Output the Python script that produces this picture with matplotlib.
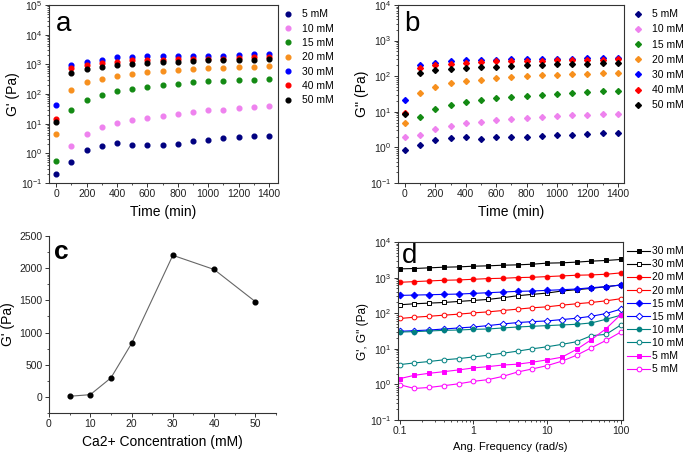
import matplotlib
matplotlib.use("Agg")
import matplotlib.pyplot as plt
import numpy as np

plt.rcParams["font.family"] = ["Liberation Sans", "DejaVu Sans"]
plt.rcParams["font.size"] = 7.5

# ---- panel a / b : time sweeps -------------------------------------------
time_min = [0, 100, 200, 300, 400, 500, 600, 700, 800, 900, 1000, 1100, 1200, 1300, 1400]
conc_labels = ["5 mM", "10 mM", "15 mM", "20 mM", "30 mM", "40 mM", "50 mM"]
conc_colors = ["#000080", "#ee82ee", "#138a13", "#f7901e", "#0000ff", "#ff0000", "#000000"]

g1_5 = [0.2, 0.52, 1.26, 1.8, 2.15, 1.95, 1.9, 1.95, 2.1, 2.6, 2.85, 3.2, 3.6, 3.7, 3.8]
g1_10 = [np.nan, 1.7, 4.4, 7.8, 10.5, 13, 16, 18.6, 21, 24.5, 28, 30, 33, 36, 39]
g1_15 = [0.56, 30, 63, 96, 127, 152, 178, 203, 225, 245, 265, 285, 290, 300, 325]
g1_20 = [4.4, 140, 245, 333, 410, 480, 555, 600, 665, 720, 760, 780, 800, 820, 870]
g1_30 = [44, 950, 1200, 1400, 1700, 1800, 1840, 1900, 1900, 1900, 1950, 1950, 2000, 2150, 2200]
g1_40 = [14, 750, 950, 1100, 1240, 1350, 1400, 1400, 1480, 1520, 1560, 1560, 1650, 1700, 1750]
g1_50 = [11.5, 530, 700, 815, 930, 1030, 1110, 1200, 1240, 1300, 1350, 1380, 1400, 1450, 1480]

g2_5 = [0.84, 1.15, 1.6, 1.8, 1.9, 1.7, 1.9, 1.9, 2.0, 2.1, 2.2, 2.3, 2.4, 2.6, 2.5]
g2_10 = [2.0, 2.2, 3.3, 4.1, 5.0, 5.2, 5.7, 6.1, 6.5, 7.1, 7.6, 7.9, 8.2, 8.6, 8.8]
g2_15 = [np.nan, 7.2, 12, 16, 19, 21, 24, 26, 28, 30, 32, 34, 36, 38, 39]
g2_20 = [4.7, 33, 50, 63, 72, 80, 88, 95, 100, 105, 110, 115, 118, 122, 125]
g2_30 = [21, 205, 240, 270, 280, 285, 290, 295, 295, 300, 305, 310, 315, 320, 325]
g2_40 = [9, 175, 205, 225, 240, 250, 260, 265, 270, 275, 280, 285, 290, 290, 295]
g2_50 = [8.8, 120, 145, 160, 170, 180, 185, 195, 200, 210, 215, 220, 225, 235, 240]

# ---- panel c : G' vs Ca2+ ---------------------------------------------------
ca_conc = [5, 10, 15, 20, 30, 40, 50]
g1_final = [10, 35, 295, 830, 2200, 1980, 1480]

# ---- panel d : frequency sweeps ------------------------------------------
freq = [0.1, 0.158, 0.251, 0.398, 0.631, 1.0, 1.58, 2.51, 3.98, 6.31,
        10.0, 15.8, 25.1, 39.8, 63.1, 100.0]
d30_g1 = [1760, 1800, 1880, 1960, 2000, 2090, 2140, 2230, 2280, 2380, 2550, 2600, 2720, 2900, 3030, 3230]
d30_g2 = [172, 184, 192, 200, 214, 228, 244, 272, 310, 338, 368, 420, 457, 499, 556, 620]
d20_g1 = [738, 771, 805, 841, 859, 897, 937, 958, 1000, 1022, 1067, 1115, 1165, 1190, 1243, 1355]
d20_g2 = [71, 77, 82, 88, 94, 102, 109, 119, 130, 142, 151, 168, 184, 200, 223, 255]
d15_g1 = [316, 323, 330, 338, 345, 360, 376, 393, 411, 420, 438, 457, 478, 521, 556, 620]
d15_g2 = [31, 32.3, 33.7, 36, 38.5, 41, 44.8, 49.9, 54.5, 58, 60.7, 66.2, 72.2, 82, 98, 130]
d10_g1 = [29.6, 30.3, 31.6, 33, 33.7, 35.2, 36, 38.5, 41, 42.9, 44.8, 46.8, 48.8, 53.3, 67.6, 87.8]
d10_g2 = [3.6, 4.0, 4.4, 4.9, 5.3, 5.9, 6.6, 7.5, 8.6, 10, 11.4, 13.3, 15.8, 23.3, 25.5, 46.8]
d5_g1 = [1.45, 1.8, 2.05, 2.28, 2.55, 2.9, 3.16, 3.5, 3.7, 4.2, 4.9, 5.8, 9.6, 18, 36.8, 91.6]
d5_g2 = [0.98, 0.77, 0.82, 0.92, 1.04, 1.22, 1.36, 1.68, 2.23, 2.72, 3.37, 4.48, 6.6, 10.7, 17.2, 29.6]

W, H = 685, 453
fig = plt.figure(figsize=(W / 100, H / 100), dpi=100)


def box(left, top, right, bottom):
    return [left / W, 1 - bottom / H, (right - left) / W, (bottom - top) / H]


def style(ax, spines=True):
    for s in ax.spines.values():
        s.set_color("#333333")
        s.set_linewidth(0.8)
    if not spines:
        ax.spines["top"].set_visible(False)
        ax.spines["right"].set_visible(False)
    ax.tick_params(which="major", length=3, width=0.7, colors="#333333",
                   labelcolor="#222222", labelsize=7.5, pad=1.5)
    ax.tick_params(which="minor", length=1.6, width=0.6, colors="#333333")
    ax.tick_params(top=False, right=False, which="both")


# ---- a
ax_a = fig.add_axes(box(49, 5, 278, 183))
for vals, lab, col in zip([g1_5, g1_10, g1_15, g1_20, g1_30, g1_40, g1_50], conc_labels, conc_colors):
    ax_a.plot(time_min, vals, "o", ms=3.4, color=col, mec=col, label=lab)
ax_a.set_yscale("log")
ax_a.set_ylim(0.1, 1e5)
ax_a.set_xlim(-48, 1460)
ax_a.set_xticks(range(0, 1401, 200))
ax_a.set_xticks(range(100, 1401, 200), minor=True)
ax_a.set_xlabel("Time (min)", fontsize=10)
ax_a.set_ylabel("G' (Pa)", fontsize=10, labelpad=1)
ax_a.text(0.03, 0.854, "a", transform=ax_a.transAxes, fontsize=20, va="baseline")
style(ax_a)
ax_a.legend(loc="upper left", bbox_to_anchor=(1.0, 1.0), frameon=False,
            handletextpad=0.7, labelspacing=0.42, borderaxespad=0.0,
            handlelength=1.2, fontsize=7.5)

# ---- b
ax_b = fig.add_axes(box(398, 5, 624, 183))
for vals, lab, col in zip([g2_5, g2_10, g2_15, g2_20, g2_30, g2_40, g2_50], conc_labels, conc_colors):
    ax_b.plot(time_min, vals, "D", ms=3.0, color=col, mec=col, label=lab)
ax_b.set_yscale("log")
ax_b.set_ylim(0.1, 1e4)
ax_b.set_xlim(-46, 1440)
ax_b.set_xticks(range(0, 1401, 200))
ax_b.set_xticks(range(100, 1401, 200), minor=True)
ax_b.set_xlabel("Time (min)", fontsize=10)
ax_b.set_ylabel("G'' (Pa)", fontsize=10, labelpad=1)
ax_b.text(0.027, 0.854, "b", transform=ax_b.transAxes, fontsize=20, va="baseline")
style(ax_b)
ax_b.legend(loc="upper left", bbox_to_anchor=(1.015, 1.0), frameon=False,
            handletextpad=0.75, labelspacing=0.5, borderaxespad=0.0,
            handlelength=1.2, fontsize=7.5)

# ---- c
ax_c = fig.add_axes(box(49, 236, 276, 413))
ax_c.plot(ca_conc, g1_final, "-", color="#666666", lw=0.8)
ax_c.plot(ca_conc, g1_final, "o", ms=3.4, color="black")
ax_c.set_xlim(0, 55)
ax_c.set_ylim(-250, 2500)
ax_c.set_xticks(range(0, 51, 10))
ax_c.set_xticks(range(5, 56, 10), minor=True)
ax_c.set_yticks(range(0, 2501, 500))
ax_c.set_yticks(range(-250, 2501, 500), minor=True)
ax_c.set_xlabel("Ca2+ Concentration (mM)", fontsize=10)
ax_c.set_ylabel("G' (Pa)", fontsize=10, labelpad=3)
ax_c.text(0.022, 0.87, "c", transform=ax_c.transAxes, fontsize=19,
          fontweight="bold", va="baseline")
style(ax_c, spines=False)

# ---- d
ax_d = fig.add_axes(box(398, 242, 623, 420))
series_d = [
    (d30_g1, "s", "black", True), (d30_g2, "s", "black", False),
    (d20_g1, "o", "#ff0000", True), (d20_g2, "o", "#ff0000", False),
    (d15_g1, "D", "#0000ff", True), (d15_g2, "D", "#0000ff", False),
    (d10_g1, "o", "#008080", True), (d10_g2, "o", "#008080", False),
    (d5_g1, "s", "#ff00ff", True), (d5_g2, "o", "#ff00ff", False),
]
d_labels = ["30 mM", "30 mM", "20 mM", "20 mM", "15 mM", "15 mM",
            "10 mM", "10 mM", "5 mM", "5 mM"]
for (vals, mk, col, filled), lab in zip(series_d, d_labels):
    ax_d.plot(freq, vals, "-", marker=mk, ms=3.4, lw=0.8, color=col,
              mec=col, mfc=col if filled else "white", mew=0.7, label=lab)
ax_d.set_xscale("log")
ax_d.set_yscale("log")
ax_d.set_xlim(0.095, 107)
ax_d.set_ylim(0.1, 1e4)
ax_d.set_xticks([0.1, 1, 10, 100])
ax_d.set_xticklabels(["0.1", "1", "10", "100"])
ax_d.set_xlabel("Ang. Frequency (rad/s)", fontsize=8)
ax_d.set_ylabel("G', G'' (Pa)", fontsize=8.5, labelpad=1)
ax_d.text(0.018, 0.882, "d", transform=ax_d.transAxes, fontsize=20, va="baseline")
style(ax_d)
ax_d.legend(loc="upper left", bbox_to_anchor=(1.0, 1.0), frameon=False,
            handletextpad=0.15, labelspacing=0.3, borderaxespad=0.0,
            handlelength=2.2, fontsize=7.5)

fig.savefig("out.png", dpi=100)
